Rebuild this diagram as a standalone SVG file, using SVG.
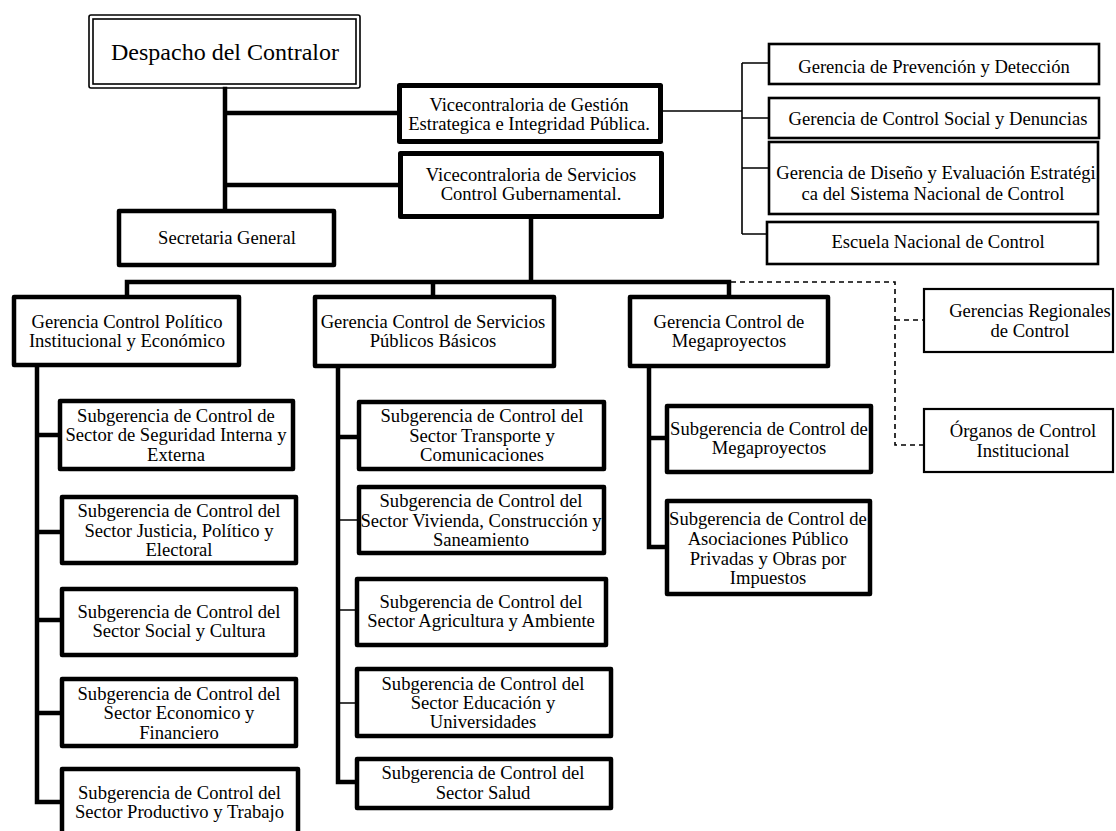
<svg xmlns="http://www.w3.org/2000/svg" width="1116" height="831" viewBox="0 0 1116 831">
<style>
.bg{fill:#fff}
.box{fill:#fff;stroke:#000;stroke-width:4.5;stroke-linejoin:round}
.med{fill:#fff;stroke:#000;stroke-width:2.6}
.thinb{fill:#fff;stroke:#000;stroke-width:2.2}
.dbl{fill:none;stroke:#000;stroke-width:1.6}
.c{fill:none;stroke:#000;stroke-width:4.5;stroke-linecap:square}
.t{fill:none;stroke:#000;stroke-width:1.6}
.d{fill:none;stroke:#000;stroke-width:1.6;stroke-dasharray:5 4}
text{font-family:"Liberation Serif","Times New Roman",serif;font-size:18.6px;text-anchor:middle;fill:#000}
.big{font-size:24px}
</style>
<rect class="bg" x="0" y="0" width="1116" height="831"/>
<g id="connectors">
<path class="c" d="M225 89 V207 M225 113 H398 M225 185 H399"/>
<path class="t" d="M663 111 H742 M742 63 V234 M742 63 H768 M742 118 H768 M742 168 H768 M742 234 H766"/>
<path class="c" d="M531 219 V282 M127 282 H729 M127 282 V295 M433 282 V295 M729 282 V295"/>
<path class="d" d="M731 282 H895 V445 H923 M895 320 H923"/>
<path class="c" d="M37 367 V802 M37 435 H58 M37 532 H60 M37 620 H60 M37 713 H60 M37 802 H60"/>
<path class="c" d="M338 367 V782 M338 437 H357 M338 782 H355"/>
<path class="t" d="M338 520 H357 M338 610 H355 M338 703 H355"/>
<path class="c" d="M649 368 V547 M649 438 H665 M649 547 H665"/>
</g>
<g id="despacho">
<rect class="dbl" x="89" y="15" width="271" height="73" rx="2"/>
<rect class="dbl" x="93" y="19" width="263" height="65"/>
<text class="big" x="225" y="60">Despacho del Contralor</text>
</g>
<g id="vice1">
<rect class="box" x="399.5" y="85.5" width="261" height="56" style="stroke-width:5"/>
<text x="529" y="110.5">Vicecontraloria de Gestión</text>
<text x="529" y="130">Estrategica e Integridad Pública.</text>
</g>
<g id="vice2">
<rect class="box" x="400.5" y="153.5" width="261" height="63" style="stroke-width:5"/>
<text x="531" y="180.5">Vicecontraloria de Servicios</text>
<text x="531" y="200">Control Gubernamental.</text>
</g>
<g id="secretaria">
<rect class="box" x="119" y="211" width="215" height="54"/>
<text x="227" y="244">Secretaria General</text>
</g>
<g id="ger-prevencion">
<rect class="med" x="769" y="44" width="330" height="40"/>
<text x="934" y="73">Gerencia de Prevención y Detección</text>
</g>
<g id="ger-control-social">
<rect class="med" x="769" y="98" width="330" height="40"/>
<text x="938" y="125">Gerencia de Control Social y Denuncias</text>
</g>
<g id="ger-diseno">
<rect class="med" x="769" y="142" width="329" height="72"/>
<text x="936" y="178.5">Gerencia de Diseño y Evaluación Estratégi</text>
<text x="933" y="200">ca del Sistema Nacional de Control</text>
</g>
<g id="escuela">
<rect class="med" x="767" y="222" width="331" height="42"/>
<text x="938" y="248">Escuela Nacional de Control</text>
</g>
<g id="ger-politico">
<rect class="box" x="14" y="297" width="225" height="68"/>
<text x="127" y="328">Gerencia Control Político</text>
<text x="127" y="347">Institucional y Económico</text>
</g>
<g id="ger-servicios">
<rect class="box" x="315" y="297" width="239" height="69"/>
<text x="433" y="327.5">Gerencia Control de Servicios</text>
<text x="433" y="346.5">Públicos Básicos</text>
</g>
<g id="ger-mega">
<rect class="box" x="630" y="297" width="198" height="69"/>
<text x="729" y="327.5">Gerencia Control de</text>
<text x="729" y="346.5">Megaproyectos</text>
</g>
<g id="regionales">
<rect class="thinb" x="924" y="289" width="189" height="63"/>
<text x="1030" y="317">Gerencias Regionales</text>
<text x="1030" y="337">de Control</text>
</g>
<g id="organos">
<rect class="thinb" x="924" y="409" width="189" height="63"/>
<text x="1023" y="437">Órganos de Control</text>
<text x="1023" y="457">Institucional</text>
</g>
<g id="sub-seguridad">
<rect class="box" x="60" y="401" width="233" height="68"/>
<text x="176" y="422">Subgerencia de Control de</text>
<text x="176" y="441">Sector de Seguridad Interna y</text>
<text x="176" y="461">Externa</text>
</g>
<g id="sub-justicia">
<rect class="box" x="62" y="497" width="234" height="66"/>
<text x="179" y="517">Subgerencia de Control del</text>
<text x="179" y="536.5">Sector Justicia, Político y</text>
<text x="179" y="556">Electoral</text>
</g>
<g id="sub-social">
<rect class="box" x="62" y="589" width="234" height="66"/>
<text x="179" y="618">Subgerencia de Control del</text>
<text x="179" y="637">Sector Social y Cultura</text>
</g>
<g id="sub-economico">
<rect class="box" x="62" y="679" width="234" height="67"/>
<text x="179" y="699.5">Subgerencia de Control del</text>
<text x="179" y="719">Sector Economico y</text>
<text x="179" y="738.5">Financiero</text>
</g>
<g id="sub-productivo">
<rect class="box" x="62" y="769" width="236" height="80"/>
<text x="179.5" y="798.5">Subgerencia de Control del</text>
<text x="179.5" y="818">Sector Productivo y Trabajo</text>
</g>
<g id="sub-transporte">
<rect class="box" x="359" y="402" width="245" height="67"/>
<text x="482" y="422">Subgerencia de Control del</text>
<text x="482" y="441.5">Sector Transporte y</text>
<text x="482" y="461">Comunicaciones</text>
</g>
<g id="sub-vivienda">
<rect class="box" x="359" y="487" width="245" height="66"/>
<text x="481" y="507">Subgerencia de Control del</text>
<text x="481" y="526.5">Sector Vivienda, Construcción y</text>
<text x="481" y="546">Saneamiento</text>
</g>
<g id="sub-agricultura">
<rect class="box" x="357" y="579" width="249" height="66"/>
<text x="481" y="608">Subgerencia de Control del</text>
<text x="481" y="627">Sector Agricultura y Ambiente</text>
</g>
<g id="sub-educacion">
<rect class="box" x="357" y="669" width="254" height="67"/>
<text x="483" y="689.5">Subgerencia de Control del</text>
<text x="483" y="709">Sector Educación y</text>
<text x="483" y="728">Universidades</text>
</g>
<g id="sub-salud">
<rect class="box" x="357" y="759" width="254" height="49"/>
<text x="483" y="779">Subgerencia de Control del</text>
<text x="483" y="798.5">Sector Salud</text>
</g>
<g id="sub-megaproyectos">
<rect class="box" x="667" y="406" width="204" height="66"/>
<text x="769" y="435">Subgerencia de Control de</text>
<text x="769" y="454">Megaproyectos</text>
</g>
<g id="sub-asociaciones">
<rect class="box" x="667" y="501" width="203" height="93"/>
<text x="768" y="525">Subgerencia de Control de</text>
<text x="768" y="545">Asociaciones Público</text>
<text x="768" y="564.5">Privadas y Obras por</text>
<text x="768" y="583.5">Impuestos</text>
</g>
</svg>
